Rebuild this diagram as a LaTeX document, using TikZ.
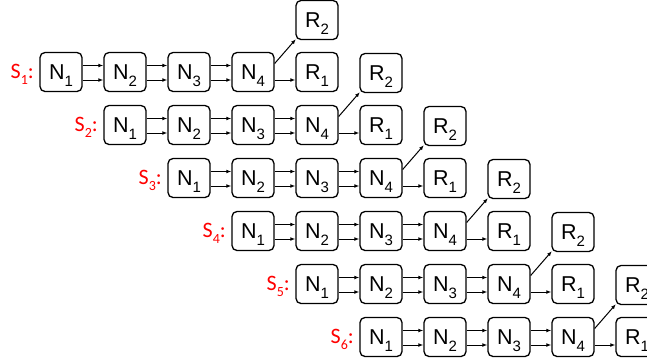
\documentclass[tikz,border=0pt]{standalone}
\usepackage{fontspec}
\setmainfont{Liberation Sans}
\newfontfamily\labfont{Carlito}
\usetikzlibrary{arrows.meta}
\newcommand\mysub[1]{\raisebox{-7.5pt}{\fontsize{15}{15}\selectfont #1}}
\newcommand\labsub[1]{\raisebox{-5.5pt}{\fontsize{14}{14}\selectfont #1}}
\begin{document}
\begin{tikzpicture}[x=1pt,y=-1pt,
 box/.style={draw, line width=1.3pt, rounded corners=5pt, minimum width=42pt, minimum height=39pt, inner sep=0pt, text height=15pt, text depth=0.5pt, font=\fontsize{21.5}{21.5}\selectfont},
 arr/.style={line width=1pt, -{Latex[length=5pt,width=3.8pt]}},
 lab/.style={text=red, anchor=base east, inner sep=0pt, font=\labfont\fontsize{22}{22}\selectfont}]
\useasboundingbox (0,0) rectangle (647,360);
\foreach \i in {0,...,5}{
  \pgfmathsetmacro\y{72+53*\i}
  \pgfmathsetmacro\x{61+64*\i}
  \pgfmathtruncatemacro\s{\i+1}
  \node[lab] (s\i) at (\x-27,\y+6.5) {S\labsub{\s}:};
  \foreach \j in {1,...,4}{ \node[box] (n\i\j) at (\x+64*\j-64,\y) {N\mysub{\j}}; }
  \node[box] (ra\i) at (\x+256,\y) {R\mysub{1}};
  \node[box] (rb\i) at (\x+256,\y-52) {R\mysub{2}};
  \foreach \j/\k in {1/2,2/3,3/4}{
    \draw[arr] ([yshift=6.5pt]n\i\j.east) -- ([yshift=6.5pt]n\i\k.west);
    \draw[arr] ([yshift=-8pt]n\i\j.east) -- ([yshift=-8pt]n\i\k.west);
  }
  \draw[arr] ([yshift=-8pt]n\i4.east) -- ([yshift=-8pt]ra\i.west);
  \draw[arr] ([yshift=8.5pt]n\i4.east) -- ([shift={(0.5pt,1pt)}]rb\i.south west);
}
\end{tikzpicture}
\end{document}
